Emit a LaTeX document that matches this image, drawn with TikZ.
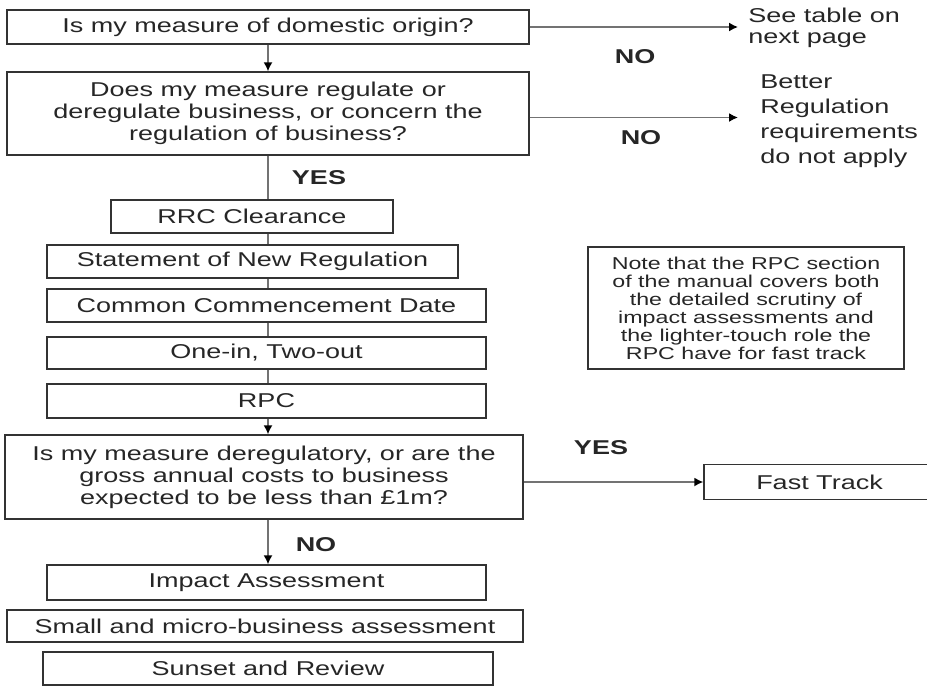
\documentclass[tikz,border=0pt]{standalone}
\usepackage{fontspec}
\setmainfont{Liberation Sans}[FakeStretch=1.35]
\usetikzlibrary{arrows.meta}

\begin{document}
\begin{tikzpicture}[
  x=0.5pt, y=-0.5pt,
  every node/.style={text=black!85, font=\fontsize{10}{11}\selectfont},
  box/.style={draw=black!80, line width=0.7pt, inner sep=0pt, align=center},
  note/.style={box, font=\fontsize{8.6}{9}\selectfont},
  side/.style={anchor=west, inner sep=0pt, align=left},
  answer/.style={font=\bfseries\fontsize{10}{11}\selectfont},
  link/.style={draw=black!55, line width=0.75pt},
  arrow/.style={link, -{Latex[length=4.5pt, width=4.5pt, color=black]}}
]
\useasboundingbox (0,0) rectangle (927,686);

\node[box, minimum width=261pt, minimum height=17pt] (origin) at (268,27)
  {Is my measure of domestic origin?};
\node[box, minimum width=261pt, minimum height=41.5pt] (regulate) at (268,113.5)
  {Does my measure regulate or\\ deregulate business, or concern the\\ regulation of business?};
\node[side, font=\fontsize{10}{10.5}\selectfont] (table) at (748,27.5) {See table on\\ next page};
\node[side, font=\fontsize{10}{12.5}\selectfont] (better) at (760,121)
  {Better\\ Regulation\\ requirements\\ do not apply};
\node[answer] (no1) at (635,57) {NO};
\node[answer] (no2) at (641,138) {NO};
\node[answer] (yes1) at (319,178) {YES};

\node[box, minimum width=141pt, minimum height=16.5pt] (rrc) at (252,216.5) {RRC Clearance};
\node[box, minimum width=205.5pt, minimum height=16.5pt] (statement) at (252.5,261.5) {Statement of New Regulation};
\node[box, minimum width=219.5pt, minimum height=16.5pt] (commence) at (266.5,305.5) {Common Commencement Date};
\node[box, minimum width=219.5pt, minimum height=16pt] (oneintwo) at (266.5,353) {One-in, Two-out};
\node[box, minimum width=219.5pt, minimum height=17pt] (rpc) at (266.5,401) {RPC};
\node[note, minimum width=158pt, minimum height=61pt] (rpcnote) at (746,308)
  {Note that the RPC section\\ of the manual covers both\\ the detailed scrutiny of\\ impact assessments and\\ the lighter-touch role the\\ RPC have for fast track};

\node[box, minimum width=259pt, minimum height=42pt] (dereg) at (264,477)
  {Is my measure deregulatory, or are the\\ gross annual costs to business\\ expected to be less than \pounds1m?};
\node[answer] (yes2) at (601,448) {YES};
\node[box, minimum width=115.5pt, minimum height=17.5pt] (fast) at (819.5,482) {Fast Track};
\node[answer] (no3) at (316,545) {NO};

\node[box, minimum width=219.5pt, minimum height=17.5pt] (impact) at (266.5,582.5) {Impact Assessment};
\node[box, minimum width=258pt, minimum height=16pt] (smallmicro) at (265,626) {Small and micro-business assessment};
\node[box, minimum width=225pt, minimum height=16.5pt] (sunset) at (268,668.5) {Sunset and Review};

\draw[arrow] (origin) -- (regulate);
\draw[arrow] (origin.east) -- ([xshift=-5pt]origin.east -| table.west);
\draw[arrow] ([yshift=-2pt]regulate.east) -- ([xshift=-11pt,yshift=-2pt]regulate.east -| better.west);
\draw[link] (regulate.south) -- (regulate.south |- rrc.north);
\foreach \a/\b in {rrc/statement, statement/commence, commence/oneintwo, oneintwo/rpc}
  \draw[link] (\a.south -| origin.south) -- (\b.north -| origin.south);
\draw[arrow] (rpc.south -| origin.south) -- (dereg.north -| origin.south);
\draw[arrow] (dereg.east |- fast.west) -- (fast.west);
\draw[arrow] (dereg.south -| origin.south) -- (impact.north -| origin.south);
\end{tikzpicture}
\end{document}
